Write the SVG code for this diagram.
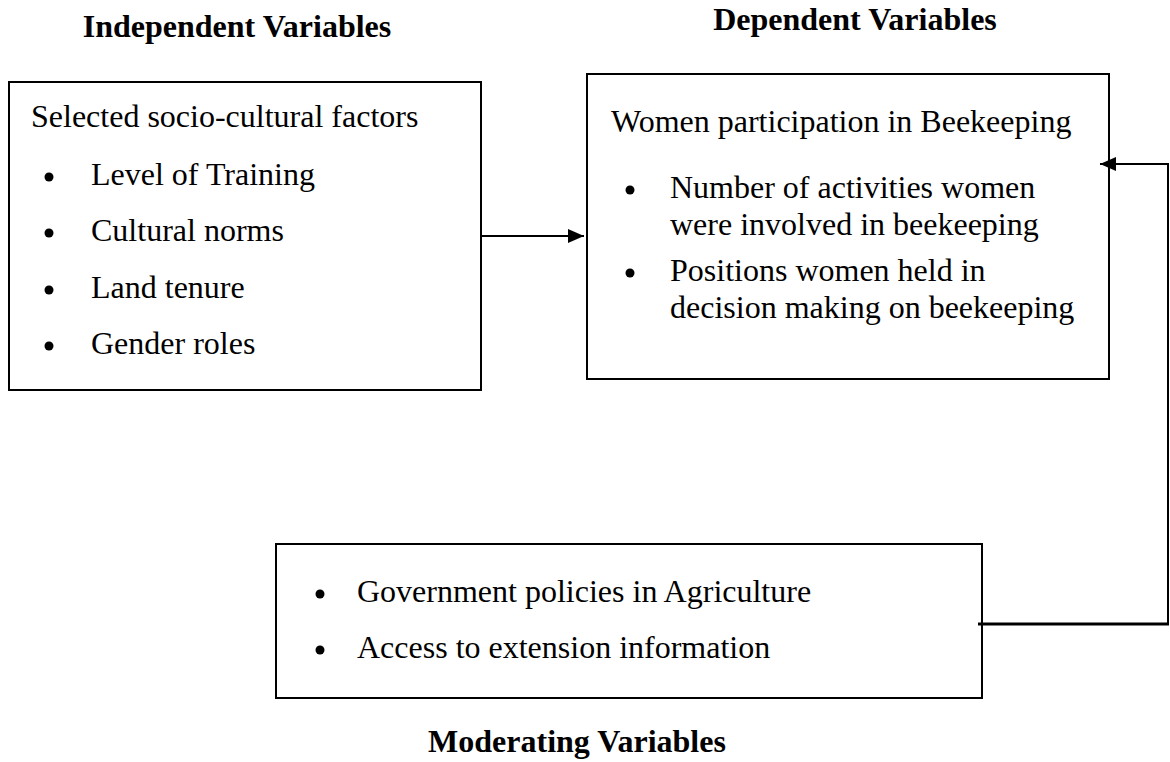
<svg xmlns="http://www.w3.org/2000/svg" width="1170" height="762" viewBox="0 0 1170 762">
  <style>
    .box { fill: #ffffff; stroke: #000000; stroke-width: 2; }
    .title { font-family: "Liberation Serif", "Times New Roman", serif; font-size: 32px; font-weight: bold; fill: #000000; }
    .body { font-family: "Liberation Serif", "Times New Roman", serif; font-size: 32px; fill: #000000; }
    .wire { fill: none; stroke: #000000; stroke-width: 2; }
  </style>
  <defs>
    <marker id="arrow" markerWidth="16" markerHeight="14" refX="16" refY="7" orient="auto" markerUnits="userSpaceOnUse">
      <path d="M0,0 L16,7 L0,14 Z" fill="#000000"/>
    </marker>
  </defs>
  <rect width="1170" height="762" fill="#ffffff"/>

  <!-- section headings -->
  <text class="title" x="237" y="37" text-anchor="middle">Independent Variables</text>
  <text class="title" x="855" y="30" text-anchor="middle">Dependent Variables</text>
  <text class="title" x="577" y="752" text-anchor="middle">Moderating Variables</text>

  <!-- independent variables -->
  <g id="independent">
    <rect class="box" x="9" y="82" width="472" height="308"/>
    <text class="body" x="31" y="127">Selected socio-cultural factors</text>
    <circle cx="49" cy="177" r="4.5"/>
    <text class="body" x="91" y="185">Level of Training</text>
    <circle cx="49" cy="233" r="4.5"/>
    <text class="body" x="91" y="241">Cultural norms</text>
    <circle cx="49" cy="290" r="4.5"/>
    <text class="body" x="91" y="298">Land tenure</text>
    <circle cx="49" cy="346" r="4.5"/>
    <text class="body" x="91" y="354">Gender roles</text>
  </g>

  <!-- dependent variables -->
  <g id="dependent">
    <rect class="box" x="587" y="74" width="522" height="305"/>
    <text class="body" x="611" y="132">Women participation in Beekeeping</text>
    <circle cx="630" cy="190" r="4.5"/>
    <text class="body" x="670" y="198">Number of activities women</text>
    <text class="body" x="670" y="235">were involved in beekeeping</text>
    <circle cx="630" cy="273" r="4.5"/>
    <text class="body" x="670" y="281">Positions women held in</text>
    <text class="body" x="670" y="318">decision making on beekeeping</text>
  </g>

  <!-- moderating variables -->
  <g id="moderating">
    <rect class="box" x="276" y="544" width="706" height="154"/>
    <circle cx="320" cy="594" r="4.5"/>
    <text class="body" x="357" y="602">Government policies in Agriculture</text>
    <circle cx="320" cy="650" r="4.5"/>
    <text class="body" x="357" y="658">Access to extension information</text>
  </g>

  <!-- connectors -->
  <g id="connectors">
    <line class="wire" x1="481" y1="236" x2="584" y2="236" marker-end="url(#arrow)"/>
    <line x1="978" y1="624" x2="1169" y2="624" stroke="#000000" stroke-width="3"/>
    <polyline class="wire" points="1168,624 1168,164 1100,164" marker-end="url(#arrow)"/>
  </g>
</svg>
